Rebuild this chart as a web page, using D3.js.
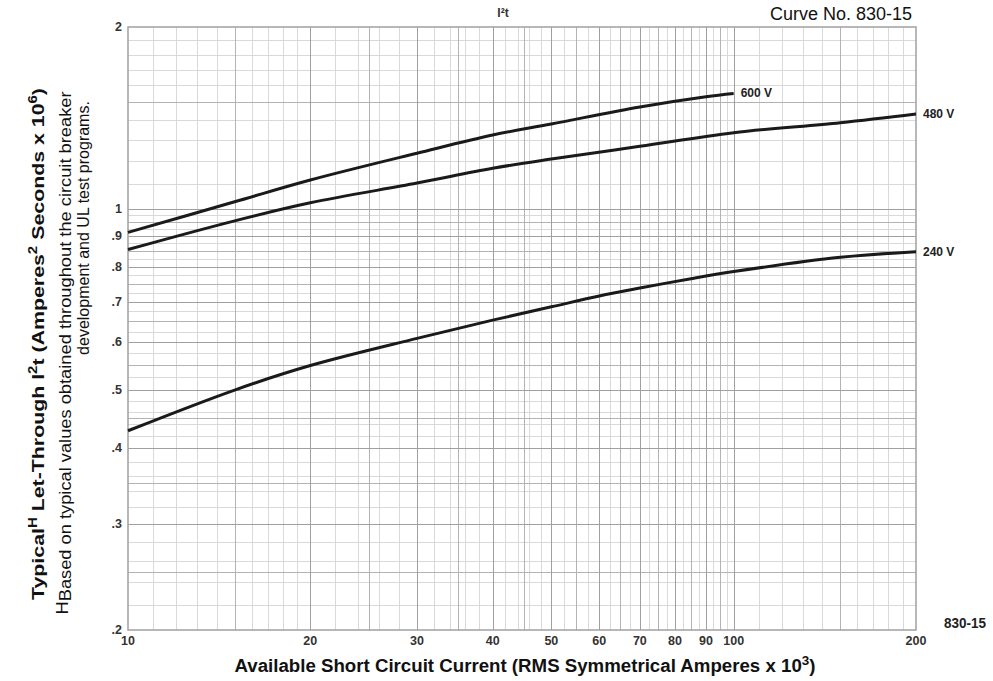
<!DOCTYPE html>
<html>
<head>
<meta charset="utf-8">
<style>
  body { margin: 0; background: #fff; }
  svg { display: block; font-family: "Liberation Sans", Arial, sans-serif; }
  .grid line { shape-rendering: crispEdges; }
  .curve { fill: none; stroke: #1a1a1a; stroke-width: 3; }
  .tick { font-weight: bold; font-size: 12.5px; fill: #333; }
  .curve-label { font-weight: bold; font-size: 12px; fill: #222; }
</style>
<title>Curve No. 830-15</title>
</head>
<body>
<svg id="chart"></svg>
<script src="https://cdn.jsdelivr.net/npm/d3@7/dist/d3.min.js"></script>
<script>
// tick labels
var xTicks = [10, 20, 30, 40, 50, 60, 70, 80, 90, 100, 200];
var yTicks = [0.2, 0.3, 0.4, 0.5, 0.6, 0.7, 0.8, 0.9, 1, 2];

// curves: available current (kA) vs I2t (x 10^6 A2s)
var current600 = [10, 15, 20, 30, 40, 50, 70, 90, 100];
var i2t600 = [0.913, 1.026, 1.115, 1.235, 1.324, 1.381, 1.474, 1.533, 1.552];

var current480 = [10, 15, 20, 30, 40, 50, 70, 100, 150, 200];
var i2t480 = [0.855, 0.954, 1.022, 1.102, 1.166, 1.208, 1.268, 1.336, 1.388, 1.435];

var current240 = [10, 15, 20, 30, 40, 50, 60, 70, 85, 100, 150, 200];
var i2t240 = [0.428, 0.500, 0.549, 0.609, 0.653, 0.687, 0.716, 0.738, 0.765, 0.786, 0.830, 0.848];

var seriesNames = ['600 V', '480 V', '240 V'];

// log paper rulings inside each decade
var wholeMantissa = [1, 2, 3, 4, 5, 6, 7, 8, 9];
var halfMantissa = [1.5, 2.5, 3.5, 4.5, 5.5, 6.5, 7.5, 8.5, 9.5];
var minorMantissa = [1.1, 1.2, 1.3, 1.4, 1.6, 1.7, 1.8, 1.9,
    2.2, 2.4, 2.6, 2.8, 3.2, 3.4, 3.6, 3.8, 4.2, 4.4, 4.6, 4.8,
    5.25, 5.75, 6.25, 6.75, 7.25, 7.75, 8.25, 8.75, 9.25, 9.75];

var width = 993, height = 681;
var margin = { top: 27, right: 77, bottom: 51, left: 128 };

var svg = d3.select('#chart')
    .attr('width', width)
    .attr('height', height);

var x = d3.scaleLog().domain([10, 200]).range([margin.left, width - margin.right]);
var y = d3.scaleLog().domain([0.2, 2]).range([height - margin.bottom, margin.top]);

function rulings(mantissa, decades, domain) {
    var out = [];
    decades.forEach(function (base) {
        mantissa.forEach(function (m) {
            var v = +(m * base).toPrecision(6);
            if (v > domain[0] && v < domain[1]) out.push(v);
        });
    });
    return out;
}

var gridLevels = [
    { mantissa: minorMantissa, color: '#d9d9d9', width: 1 },
    { mantissa: halfMantissa, color: '#b3b3b3', width: 1 },
    { mantissa: wholeMantissa, color: '#a0a0a0', width: 1.5 }
];

var grid = svg.append('g').attr('class', 'grid');

gridLevels.forEach(function (lvl) {
    grid.append('g').selectAll('line')
        .data(rulings(lvl.mantissa, [10, 100], x.domain()))
        .enter().append('line')
        .attr('x1', function (d) { return Math.round(x(d)) + 0.5; })
        .attr('x2', function (d) { return Math.round(x(d)) + 0.5; })
        .attr('y1', y(2))
        .attr('y2', y(0.2))
        .attr('stroke', lvl.color)
        .attr('stroke-width', lvl.width);

    grid.append('g').selectAll('line')
        .data(rulings(lvl.mantissa, [0.1, 1], y.domain()))
        .enter().append('line')
        .attr('x1', x(10))
        .attr('x2', x(200))
        .attr('y1', function (d) { return Math.round(y(d)) + 0.5; })
        .attr('y2', function (d) { return Math.round(y(d)) + 0.5; })
        .attr('stroke', lvl.color)
        .attr('stroke-width', lvl.width);
});

// frame
svg.append('rect')
    .attr('x', x(10))
    .attr('y', y(2))
    .attr('width', x(200) - x(10))
    .attr('height', y(0.2) - y(2))
    .attr('fill', 'none')
    .attr('stroke', '#a0a0a0')
    .attr('stroke-width', 1.5);

// tick labels
svg.append('g').selectAll('text')
    .data(xTicks)
    .enter().append('text')
    .attr('class', 'tick')
    .attr('x', function (d) { return x(d); })
    .attr('y', y(0.2) + 15)
    .attr('text-anchor', 'middle')
    .text(function (d) { return d; });

svg.append('g').selectAll('text')
    .data(yTicks)
    .enter().append('text')
    .attr('class', 'tick')
    .attr('x', x(10) - 6)
    .attr('y', function (d) { return y(d) + 4; })
    .attr('text-anchor', 'end')
    .text(function (d) { return d < 1 ? String(d).replace('0.', '.') : d; });

// curves
var line = d3.line()
    .x(function (d) { return x(d[0]); })
    .y(function (d) { return y(d[1]); })
    .curve(d3.curveCatmullRom.alpha(0.5));

var series = [
    d3.zip(current600, i2t600),
    d3.zip(current480, i2t480),
    d3.zip(current240, i2t240)
];

svg.append('g').selectAll('path')
    .data(series)
    .enter().append('path')
    .attr('class', 'curve')
    .attr('d', line);

svg.append('g').selectAll('text')
    .data(series)
    .enter().append('text')
    .attr('class', 'curve-label')
    .attr('x', function (d) { return x(d[d.length - 1][0]) + 7; })
    .attr('y', function (d) { return y(d[d.length - 1][1]) + 4; })
    .text(function (d, i) { return seriesNames[i]; });

// header texts
svg.append('text')
    .attr('x', 503)
    .attr('y', 17)
    .attr('text-anchor', 'middle')
    .attr('font-weight', 'bold')
    .attr('font-size', 12)
    .attr('fill', '#333')
    .text('I²t');

svg.append('text')
    .attr('x', 912)
    .attr('y', 20)
    .attr('text-anchor', 'end')
    .attr('font-size', 18)
    .attr('fill', '#111')
    .text('Curve No. 830-15');

svg.append('text')
    .attr('x', 944)
    .attr('y', 628)
    .attr('font-weight', 'bold')
    .attr('font-size', 15)
    .attr('textLength', 42)
    .attr('lengthAdjust', 'spacingAndGlyphs')
    .attr('fill', '#222')
    .text('830-15');

// x axis title
var xt = svg.append('text')
    .attr('x', 525)
    .attr('y', 672)
    .attr('text-anchor', 'middle')
    .attr('font-weight', 'bold')
    .attr('font-size', 18)
    .attr('textLength', 581)
    .attr('lengthAdjust', 'spacingAndGlyphs')
    .attr('fill', '#111');
xt.append('tspan').text('Available Short Circuit Current (RMS Symmetrical Amperes x 10');
xt.append('tspan').attr('dy', -7).attr('font-size', 13).text('3');
xt.append('tspan').attr('dy', 7).text(')');

// y axis title (rotated)
var yt = svg.append('text')
    .attr('transform', 'translate(44,344) rotate(-90)')
    .attr('text-anchor', 'middle')
    .attr('font-weight', 'bold')
    .attr('font-size', 17)
    .attr('textLength', 512)
    .attr('lengthAdjust', 'spacingAndGlyphs')
    .attr('fill', '#111');
yt.append('tspan').text('Typical');
yt.append('tspan').attr('dy', -7).attr('font-size', 12).text('H');
yt.append('tspan').attr('dy', 7).text(' Let-Through I');
yt.append('tspan').attr('dy', -7).attr('font-size', 12).text('2');
yt.append('tspan').attr('dy', 7).text('t (Amperes');
yt.append('tspan').attr('dy', -7).attr('font-size', 12).text('2');
yt.append('tspan').attr('dy', 7).text(' Seconds x 10');
yt.append('tspan').attr('dy', -7).attr('font-size', 12).text('6');
yt.append('tspan').attr('dy', 7).text(')');

var note1 = svg.append('text')
    .attr('transform', 'translate(71,353) rotate(-90)')
    .attr('text-anchor', 'middle')
    .attr('font-size', 16.5)
    .attr('textLength', 523)
    .attr('lengthAdjust', 'spacingAndGlyphs')
    .attr('fill', '#111');
note1.append('tspan').attr('dy', -3).text('H');
note1.append('tspan').attr('dy', 3).text('Based on typical values obtained throughout the circuit breaker');

svg.append('text')
    .attr('transform', 'translate(89,228) rotate(-90)')
    .attr('text-anchor', 'middle')
    .attr('font-size', 16)
    .attr('fill', '#111')
    .text('development and UL test programs.');
</script>
</body>
</html>
